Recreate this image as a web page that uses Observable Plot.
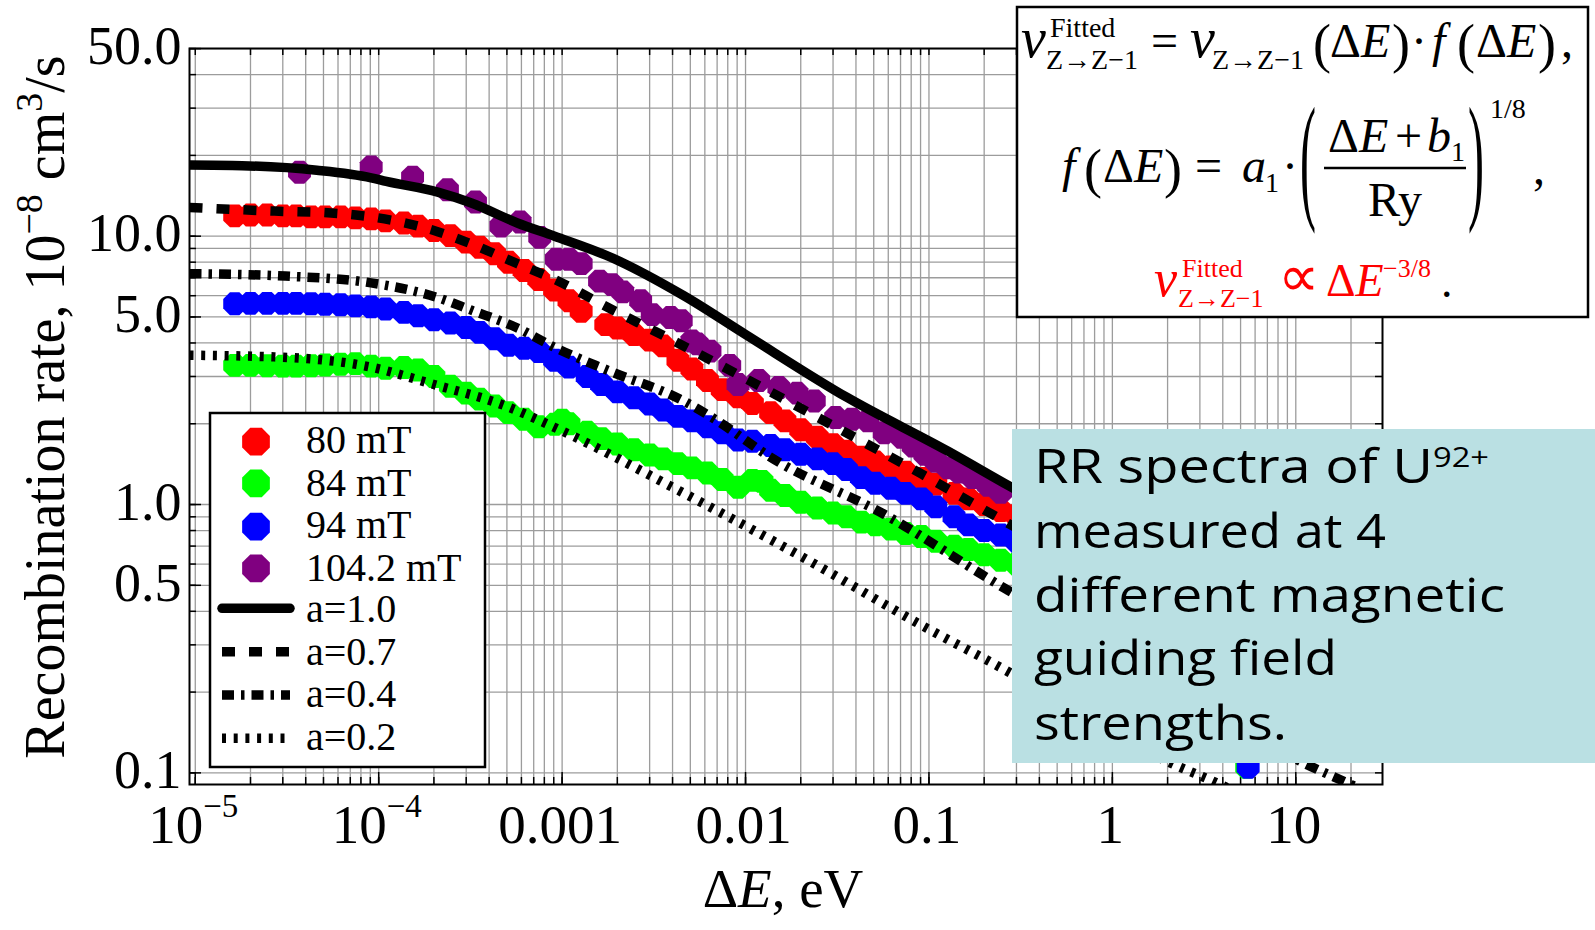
<!DOCTYPE html>
<html><head><meta charset="utf-8">
<script src="https://cdn.jsdelivr.net/npm/d3@7"></script>
<script src="https://cdn.jsdelivr.net/npm/@observablehq/plot@0.6"></script>
<style>
html,body{margin:0;padding:0;background:#fff;}
#wrap{position:relative;width:1595px;height:930px;overflow:hidden;background:#fff;}
svg text{white-space:pre;}
</style></head><body><div id="wrap"></div>
<script>
// ---------------- data ----------------
const xTickValues = [1e-5, 1e-4, 1e-3, 1e-2, 0.1, 1, 10];
const xTickLabels = ["10^−5", "10^−4", "0.001", "0.01", "0.1", "1", "10"];
const yTickValues = [0.1, 0.5, 1, 5, 10, 50];
const yTickLabels = ["0.1", "0.5", "1.0", "5.0", "10.0", "50.0"];

const seriesNames = ["80 mT", "84 mT", "94 mT", "104.2 mT"];
const seriesColors = ["#ff0000", "#00ff00", "#0000ff", "#800080"];
const fitNames = ["a=1.0", "a=0.7", "a=0.4", "a=0.2"];
const fitDash = [null, "13,14", "12,7,3.5,7", "4,7.7"];

// 80 mT (red)
const red80E = [1.64e-5, 2.0e-5, 2.46e-5, 3.0e-5, 3.55e-5, 4.28e-5, 5.1e-5, 6.2e-5, 7.46e-5, 9.1e-5,
  1.09e-4, 1.37e-4, 1.64e-4, 2.0e-4, 2.46e-4, 3.0e-4, 3.55e-4, 4.28e-4, 5.1e-4, 6.2e-4, 7.46e-4, 9.1e-4,
  1.09e-3, 1.27e-3, 1.73e-3, 2.0e-3, 2.46e-3, 3.0e-3, 3.55e-3, 4.28e-3, 5.1e-3, 6.2e-3, 7.46e-3, 9.1e-3,
  1.09e-2, 1.37e-2, 1.64e-2, 2.0e-2, 2.46e-2, 3.0e-2, 3.55e-2, 4.28e-2, 5.1e-2, 6.2e-2, 7.46e-2, 9.1e-2,
  0.109, 0.137, 0.164, 0.2, 0.246, 0.3];
const red80V = [11.9, 12.0, 12.0, 11.9, 11.9, 11.8, 11.8, 11.8, 11.7, 11.6,
  11.4, 11.2, 10.9, 10.5, 10.05, 9.5, 9.1, 8.6, 8.0, 7.45, 6.9, 6.3,
  5.75, 5.25, 4.68, 4.55, 4.3, 4.1, 3.9, 3.45, 3.2, 2.9, 2.68, 2.52,
  2.38, 2.2, 2.05, 1.9, 1.78, 1.67, 1.58, 1.5, 1.44, 1.38, 1.32, 1.25,
  1.19, 1.1, 1.05, 1.0, 0.95, 0.91];

// 84 mT (green)
const green84E = [1.64e-5, 2.0e-5, 2.46e-5, 3.0e-5, 3.55e-5, 4.28e-5, 5.1e-5, 6.2e-5, 7.46e-5, 9.1e-5,
  1.09e-4, 1.37e-4, 1.64e-4, 2.0e-4, 2.46e-4, 3.0e-4, 3.55e-4, 4.28e-4, 5.1e-4, 6.2e-4, 7.46e-4, 9.1e-4,
  1.0e-3, 1.09e-3, 1.37e-3, 1.64e-3, 2.0e-3, 2.46e-3, 3.0e-3, 3.55e-3, 4.28e-3, 5.1e-3, 6.2e-3, 7.46e-3, 9.1e-3,
  1.09e-2, 1.23e-2, 1.37e-2, 1.64e-2, 2.0e-2, 2.46e-2, 3.0e-2, 3.55e-2, 4.28e-2, 5.1e-2, 6.2e-2, 7.46e-2, 9.1e-2,
  0.109, 0.137, 0.164, 0.2, 0.246, 0.3, 5.4];
const green84V = [3.30, 3.30, 3.29, 3.28, 3.28, 3.29, 3.31, 3.33, 3.35, 3.28,
  3.22, 3.24, 3.17, 3.0, 2.76, 2.6, 2.47, 2.33, 2.2, 2.08, 1.95, 1.99,
  2.06, 2.0, 1.86, 1.76, 1.68, 1.6, 1.53, 1.48, 1.42, 1.37, 1.31, 1.24, 1.16,
  1.23, 1.22, 1.13, 1.08, 1.02, 0.97, 0.93, 0.9, 0.86, 0.84, 0.81, 0.78, 0.76,
  0.73, 0.7, 0.68, 0.65, 0.62, 0.6, 0.105];

// 94 mT (blue)
const blue94E = [1.64e-5, 2.0e-5, 2.46e-5, 3.0e-5, 3.55e-5, 4.28e-5, 5.1e-5, 6.2e-5, 7.46e-5, 9.1e-5,
  1.09e-4, 1.37e-4, 1.64e-4, 2.0e-4, 2.46e-4, 3.0e-4, 3.55e-4, 4.28e-4, 5.1e-4, 6.2e-4, 7.46e-4, 9.1e-4,
  1.09e-3, 1.37e-3, 1.64e-3, 2.0e-3, 2.46e-3, 3.0e-3, 3.55e-3, 4.28e-3, 5.1e-3, 6.2e-3, 7.46e-3, 9.1e-3,
  1.09e-2, 1.37e-2, 1.64e-2, 2.0e-2, 2.46e-2, 3.0e-2, 3.55e-2, 4.28e-2, 5.1e-2, 6.2e-2, 7.46e-2, 9.1e-2,
  0.109, 0.137, 0.164, 0.2, 0.246, 0.3, 5.5];
const blue94V = [5.6, 5.62, 5.62, 5.62, 5.62, 5.6, 5.58, 5.55, 5.5, 5.45,
  5.35, 5.2, 5.05, 4.88, 4.75, 4.57, 4.38, 4.15, 3.92, 3.82, 3.72, 3.45,
  3.25, 3.0, 2.8, 2.63, 2.5, 2.37, 2.25, 2.13, 2.05, 1.95, 1.85, 1.74,
  1.72, 1.66, 1.6, 1.54, 1.48, 1.42, 1.35, 1.26, 1.2, 1.15, 1.1, 1.05,
  0.98, 0.9, 0.84, 0.8, 0.77, 0.73, 0.105];

// 104.2 mT (purple)
const purple104E = [3.7e-5, 9.1e-5, 1.53e-4, 2.37e-4, 3.37e-4, 4.64e-4, 5.9e-4, 7.55e-4, 9.3e-4, 1.09e-3,
  1.27e-3, 1.6e-3, 1.87e-3, 2.14e-3, 2.68e-3, 3.1e-3, 3.9e-3, 4.46e-3, 5.1e-3, 5.46e-3,
  6.4e-3, 8.2e-3, 9.1e-3, 1.18e-2, 1.52e-2, 1.91e-2, 2.37e-2, 3.1e-2, 3.8e-2, 4.64e-2,
  5.7e-2, 7.1e-2, 8.2e-2, 9.5e-2, 0.109, 0.127, 0.146, 0.173, 0.21, 0.246];
const purple104V = [17.3, 18.1, 16.6, 14.9, 13.4, 10.9, 11.3, 9.9, 8.2, 8.2,
  7.9, 6.8, 6.6, 6.2, 5.75, 5.1, 4.98, 4.84, 4.07, 3.97,
  3.73, 3.3, 2.8, 2.9, 2.73, 2.6, 2.43, 2.11, 2.08, 2.05,
  1.85, 1.78, 1.65, 1.54, 1.45, 1.37, 1.32, 1.26, 1.18, 1.11];

// fitted curves
const fit10E = [9.3e-6, 1.8e-5, 4.6e-5, 9.1e-5, 1.1e-4, 2.1e-4, 3.2e-4, 5.7e-4, 9.1e-4, 1.8e-3, 4.6e-3, 1.0e-2, 3.6e-2, 0.127, 0.275, 0.91, 2.7, 9.1, 29.7];
const fit10V = [18.4, 18.3, 17.6, 16.5, 16.0, 14.6, 13.3, 11.2, 10.0, 8.4, 6.0, 4.3, 2.5, 1.58, 1.17, 0.75, 0.49, 0.31, 0.2];
const fit07E = [9.3e-6, 2.7e-5, 5.5e-5, 9.1e-5, 2.0e-4, 3.2e-4, 5.7e-4, 9.1e-4, 1.8e-3, 3.6e-3, 9.1e-3, 2.3e-2, 9.1e-2, 0.255, 0.91, 2.7, 9.1, 29.7];
const fit07V = [12.8, 12.4, 12.2, 11.8, 10.5, 9.35, 7.9, 6.9, 5.4, 4.25, 3.05, 2.17, 1.3, 0.87, 0.54, 0.36, 0.23, 0.15];
const fit04E = [9.3e-6, 3.1e-5, 9.1e-5, 2.1e-4, 3.2e-4, 5.7e-4, 9.1e-4, 1.8e-3, 4.6e-3, 6.8e-3, 1.37e-2, 5.7e-2, 0.255, 0.91, 2.7, 11.0, 20, 29.7];
const fit04V = [7.25, 7.1, 6.7, 5.9, 5.3, 4.55, 3.85, 3.15, 2.43, 2.08, 1.5, 0.92, 0.49, 0.3, 0.19, 0.109, 0.0905, 0.08];
const fit02E = [9.3e-6, 2.7e-5, 9.1e-5, 2.0e-4, 4.6e-4, 1.0e-3, 4.0e-3, 2.1e-2, 9.1e-2, 0.28, 0.91, 2.07, 3.88, 9.0];
const fit02V = [3.6, 3.55, 3.25, 2.8, 2.37, 1.88, 1.16, 0.63, 0.355, 0.235, 0.145, 0.109, 0.0905, 0.068];

const rrLines = ["RR spectra of U", "measured at 4", "different magnetic", "guiding field", "strengths."];
const rrSup = "92+";

// ---------------- build ----------------
const serif = "'Liberation Serif','Times New Roman',Times,serif";
const pts = (E, V, name) => E.map((e, i) => ({E: e, v: V[i], series: name}));
const dotSets = [pts(red80E, red80V, seriesNames[0]), pts(green84E, green84V, seriesNames[1]),
                 pts(blue94E, blue94V, seriesNames[2]), pts(purple104E, purple104V, seriesNames[3])];
const fitSets = [pts(fit10E, fit10V, fitNames[0]), pts(fit07E, fit07V, fitNames[1]),
                 pts(fit04E, fit04V, fitNames[2]), pts(fit02E, fit02V, fitNames[3])];

const octagon = {
  draw(context, size) {
    const r = Math.sqrt(size / Math.PI);
    for (let i = 0; i < 8; i++) {
      const a = Math.PI / 8 + i * Math.PI / 4;
      const x = r * Math.cos(a), y = r * Math.sin(a);
      if (i === 0) context.moveTo(x, y); else context.lineTo(x, y);
    }
    context.closePath();
  }
};

const xDomain = [9.3e-6, 29.7], yDomain = [0.0905, 50.05];
const W = 1595, H = 930, mL = 189, mR = 213, mT = 48, mB = 146;
const PW = W - mL - mR, PH = H - mT - mB;

const gridVals = (lo, hi) => { const out = []; for (let e = -7; e <= 3; e++) for (let k = 1; k <= 9; k++) { const v = +(k * Math.pow(10, e)).toPrecision(6); if (v >= lo && v <= hi) out.push(v); } return out; };
const xGrid = gridVals(xDomain[0], xDomain[1]);
const yGrid = gridVals(yDomain[0], yDomain[1]);
const gridStyle = {stroke: "#9c9c9c", strokeOpacity: 1, strokeWidth: 1.3};
const tickStyle = {stroke: "black", strokeWidth: 1.5, strokeOpacity: 1};

const marks = [
  Plot.gridX(xGrid, gridStyle),
  Plot.gridY(yGrid, gridStyle),
  Plot.tickX(xGrid, {x: d => d, insetTop: PH - 7, ...tickStyle}),
  Plot.tickX(xTickValues, {x: d => d, insetTop: PH - 12, ...tickStyle}),
  Plot.tickX(xGrid, {x: d => d, insetBottom: PH - 7, ...tickStyle}),
  Plot.tickY(yGrid, {y: d => d, insetRight: PW - 7, ...tickStyle}),
  Plot.tickY(yTickValues, {y: d => d, insetRight: PW - 12, ...tickStyle}),
  Plot.tickY(yGrid, {y: d => d, insetLeft: PW - 7, ...tickStyle}),
  Plot.frame({stroke: "black", strokeWidth: 2})
];
dotSets.forEach((d, i) => marks.push(Plot.dot(d, {x: "E", y: "v", r: 12.4, symbol: octagon, fill: seriesColors[i], stroke: "none", clip: true})));
fitSets.forEach((d, i) => marks.push(Plot.line(d, {x: "E", y: "v", stroke: "black", strokeWidth: 9.5,
  strokeDasharray: fitDash[i] || undefined, strokeLinecap: fitDash[i] ? "butt" : "round", strokeLinejoin: "round",
  curve: "monotone-x", clip: true})));
marks.push(Plot.axisX({ticks: xTickValues, tickFormat: d => xTickLabels[xTickValues.indexOf(d)], tickSize: 0, tickPadding: 19, fontSize: 55, label: null, dx: -2}));
marks.push(Plot.text(yTickValues, {y: d => d, text: (d, i) => yTickLabels[i], frameAnchor: "left", textAnchor: "end", lineAnchor: "middle", dx: -8, dy: -2, fontSize: 54, fill: "black"}));

const chart = Plot.plot({
  width: W, height: H, marginLeft: mL, marginRight: mR, marginTop: mT, marginBottom: mB,
  x: {type: "log", domain: xDomain},
  y: {type: "log", domain: yDomain, axis: null},
  style: {fontFamily: serif, background: "white", color: "black"},
  marks
});
document.getElementById("wrap").append(chart);

const svg = d3.select(chart);
// superscripts in x tick labels
svg.selectAll("text").each(function () {
  const s = this.textContent; const m = s.match(/^10\^(.+)$/);
  if (m) { const t = d3.select(this); t.text(null); t.append("tspan").text("10"); t.append("tspan").attr("dy", -26).attr("font-size", 33).text(m[1]); }
});

const g = svg.append("g").attr("font-family", serif).attr("fill", "black").attr("text-anchor", "start");
function T(x, y, size, parts, fill = "black", anchor = "start") {
  const el = g.append("text").attr("x", x).attr("y", y).attr("font-size", size).attr("fill", fill).attr("text-anchor", anchor);
  for (const p of parts) {
    const s = typeof p === "string" ? {t: p} : p;
    const ts = el.append("tspan").text(s.t);
    if (s.i) ts.attr("font-style", "italic");
    if (s.size) ts.attr("font-size", s.size);
    if (s.dy) ts.attr("dy", s.dy);
  }
  return el;
}

// axis titles
T(0, 0, 56, ["Recombination rate, 10", {t: "−8", size: 38, dy: -22}, {t: " cm", dy: 22}, {t: "3", size: 38, dy: -22}, {t: "/s", dy: 22}], "black", "middle")
  .attr("x", null).attr("y", null).attr("transform", "translate(64,407) rotate(-90)");
T(783, 907, 55, ["Δ", {t: "E", i: 1}, ", eV"], "black", "middle");

// legend
const lg = g.append("g");
lg.append("rect").attr("x", 210).attr("y", 413).attr("width", 275).attr("height", 354).attr("fill", "white").attr("stroke", "black").attr("stroke-width", 2.5);
const legRowsDot = [441.7, 483.3, 526.7, 568.3];
const legRowsLine = [608.3, 651.7, 695, 738.3];
const legBase = [453, 496, 538, 581, 622, 665, 707, 750];
seriesNames.forEach((n, i) => {
  lg.append("path").attr("d", d3.symbol().type(octagon).size(Math.PI * 15 * 15)()).attr("transform", `translate(256,${legRowsDot[i]})`).attr("fill", seriesColors[i]);
});
fitNames.forEach((n, i) => {
  const l = lg.append("line").attr("x1", 222).attr("x2", 290).attr("y1", legRowsLine[i]).attr("y2", legRowsLine[i])
    .attr("stroke", "black").attr("stroke-width", 9.5).attr("stroke-linecap", fitDash[i] ? "butt" : "round");
  if (fitDash[i]) l.attr("stroke-dasharray", fitDash[i]);
});
[...seriesNames, ...fitNames].forEach((n, i) => T(306, legBase[i], 40, [n]));

// formula box
g.append("rect").attr("x", 1017).attr("y", 7).attr("width", 571).attr("height", 310).attr("fill", "white").attr("stroke", "black").attr("stroke-width", 2.5);
T(1021, 57, 56, [{t: "ν", i: 1}]);
T(1050, 37, 28, ["Fitted"]);
T(1046, 69, 28, ["Z→Z−1"]);
T(1151, 57, 48, ["="]);
T(1190, 57, 56, [{t: "ν", i: 1}]);
T(1212, 69, 28, ["Z→Z−1"]);
T(1313, 62, 54, ["("]);
T(1330, 57, 48, ["Δ", {t: "E", i: 1}]);
T(1392, 62, 54, [")"]);
T(1411, 57, 48, ["·"]);
T(1432, 57, 48, [{t: "f", i: 1}]);
T(1457, 62, 54, ["("]);
T(1476, 57, 48, ["Δ", {t: "E", i: 1}]);
T(1538, 62, 54, [")"]);
T(1561, 57, 48, [","]);

T(1062, 182, 48, [{t: "f", i: 1}]);
T(1084, 187, 54, ["("]);
T(1103, 182, 48, ["Δ", {t: "E", i: 1}]);
T(1164, 187, 54, [")"]);
T(1195, 182, 48, ["="]);
T(1242, 182, 48, [{t: "a", i: 1}]);
T(1265, 192, 28, ["1"]);
T(1282, 182, 48, ["·"]);
T(0, 0, 48, ["("]).attr("x", null).attr("y", null).attr("transform", "translate(1300,204) scale(1,2.9)");
T(0, 0, 48, [")"]).attr("x", null).attr("y", null).attr("transform", "translate(1468,204) scale(1,2.9)");
T(1328, 152, 48, ["Δ", {t: "E", i: 1}]);
T(1395, 152, 48, ["+"]);
T(1427, 152, 48, [{t: "b", i: 1}]);
T(1451, 161, 28, ["1"]);
g.append("line").attr("x1", 1324).attr("x2", 1466).attr("y1", 168).attr("y2", 168).attr("stroke", "black").attr("stroke-width", 2.5);
T(1368, 216, 48, ["Ry"]);
T(1490, 118, 28, ["1/8"]);
T(1533, 184, 48, [","]);

T(1154, 296, 52, [{t: "ν", i: 1}], "#ff0000");
T(1182, 277, 26, ["Fitted"], "#ff0000");
T(1178, 307, 26, ["Z→Z−1"], "#ff0000");
T(1278, 296, 58, ["∝"], "#ff0000");
T(1326, 296, 46, ["Δ", {t: "E", i: 1}], "#ff0000");
T(1383, 277, 26, ["−3/8"], "#ff0000");
T(1441, 297, 46, ["."]);

// RR annotation box
g.append("rect").attr("x", 1012).attr("y", 429).attr("width", 583).attr("height", 334).attr("fill", "#bae0e3");
const rrBase = [483, 548, 612, 675, 740];
const rrLen = [455, 352, 471, 303, 253];
rrLines.forEach((s, i) => {
  const el = g.append("text").attr("x", 1034).attr("y", rrBase[i]).attr("font-size", 48).attr("text-anchor", "start")
    .attr("font-family", "'Comic Sans MS','Open Sans',sans-serif").attr("fill", "black")
    .attr("textLength", rrLen[i]).attr("lengthAdjust", "spacingAndGlyphs");
  el.append("tspan").text(s);
  if (i === 0) el.append("tspan").attr("dy", -16).attr("font-size", 28).text(rrSup);
});
</script></body></html>
